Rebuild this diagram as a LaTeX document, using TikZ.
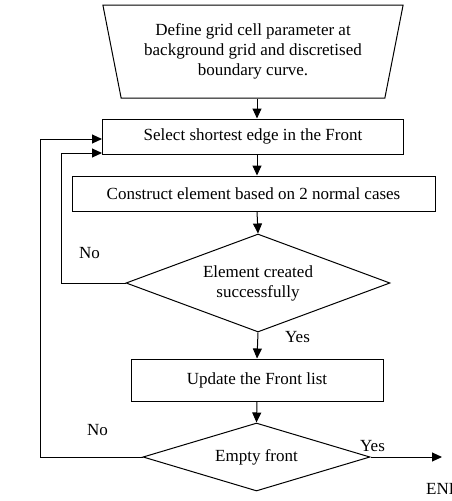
\documentclass[tikz,border=0pt]{standalone}
\usepackage{fontspec}
\setmainfont{Liberation Serif}
\usetikzlibrary{shapes.geometric,arrows.meta,calc}

\tikzset{
	every node/.style={font=\fontsize{17}{20}\selectfont},
	box/.style={draw, rectangle, line width=1pt, inner sep=0pt},
	decide/.style={draw, diamond, aspect=2.7, line width=1pt, inner sep=0pt, align=center},
	flow/.style={line width=1pt, -{Triangle[length=10pt,width=9pt]}}
}

\begin{document}
\begin{tikzpicture}[x=1pt, y=-1pt]
	\useasboundingbox (0,0) rectangle (451,501);
	\node[draw, trapezium, trapezium angle=76, shape border rotate=180,
		trapezium stretches=true, line width=1pt, align=center,
		minimum width=301pt, minimum height=93pt] (def) at (253,51.5)
		{Define grid cell parameter at\\ background grid and discretised\\ boundary curve.};
	\node[box, minimum width=301pt, minimum height=35pt] (sel) at (253,136.5)
		{Select shortest edge in the Front};
	\node[box, minimum width=363pt, minimum height=35pt] (con) at (253.5,193.5)
		{Construct element based on 2 normal cases};
	\node[decide, minimum width=264pt, minimum height=98pt] (ok) at (258,283)
		{Element created\\ successfully};
	\node[box, minimum width=252pt, minimum height=42pt] (upd) at (257,380)
		{Update the Front list};
	\node[decide, minimum width=227pt, minimum height=68pt] (emp) at (256.5,457)
		{Empty front};
	\coordinate (axis) at (257,0);
	\coordinate (inner) at (61,153);
	\coordinate (outer) at (40,139);
	\coordinate (fin) at (442,457);
	\draw[flow] (def.south -| axis) -- (sel.north -| axis);
	\draw[flow] (sel.south -| axis) -- (con.north -| axis);
	\draw[flow] (con.south -| axis) -- (ok.north);
	\draw[flow] (ok.south) -- (upd.north -| axis);
	\draw[flow] (upd.south -| axis) -- (emp.north);
	\draw[flow] (ok.west) -| (inner) -- (inner -| sel.west);
	\draw[flow] (emp.west) -| (outer) -- (outer -| sel.west);
	\draw[flow] (emp.east) -- (fin);
	\node (no1) at (89.5,253) {No};
	\node (yes1) at (297.5,337) {Yes};
	\node (no2) at (97.5,430) {No};
	\node (yes2) at (372.5,446) {Yes};
	\node[anchor=base west, inner sep=0pt] (end) at (426,494) {END};
\end{tikzpicture}
\end{document}
